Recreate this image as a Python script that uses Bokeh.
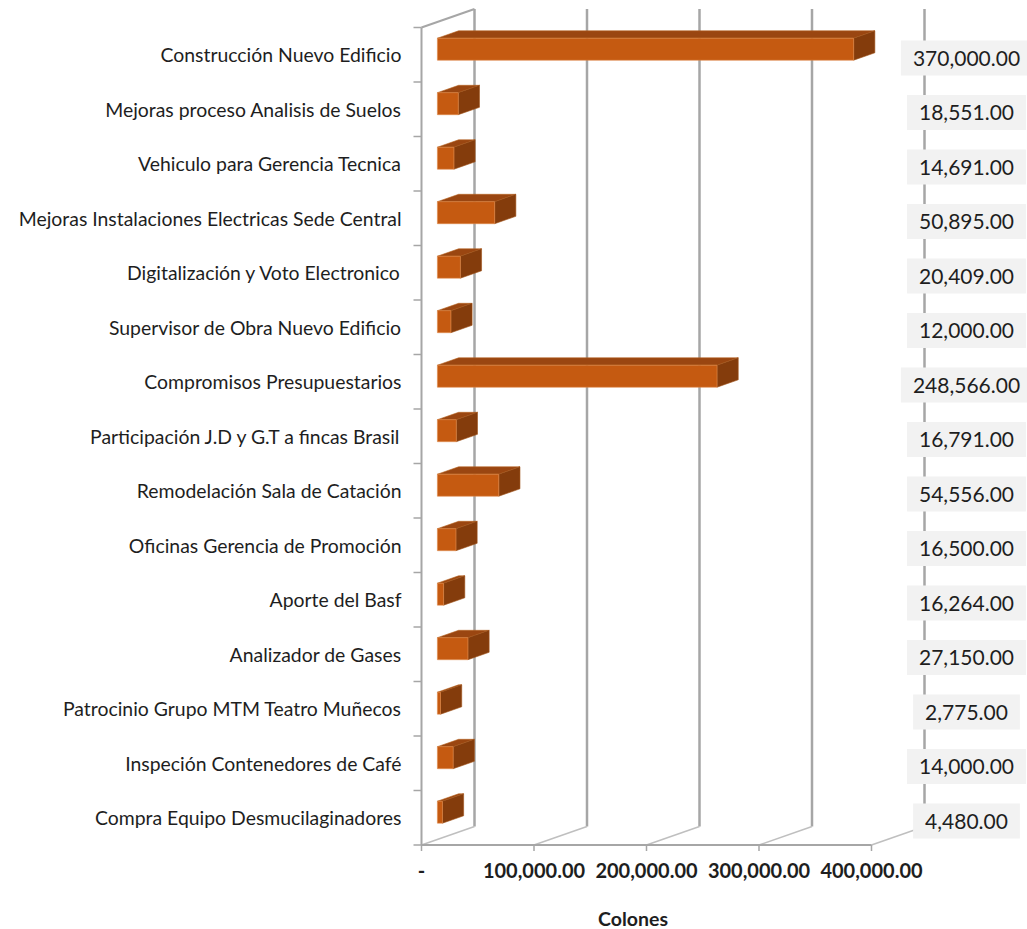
from bokeh.plotting import figure
from bokeh.models import Range1d
from bokeh.core.properties import value
from bokeh.embed import file_html
from bokeh.resources import INLINE

# ---------------- data ----------------
categories = [
    "Construcción Nuevo Edificio",
    "Mejoras proceso Analisis de Suelos",
    "Vehiculo para Gerencia Tecnica",
    "Mejoras Instalaciones Electricas Sede Central",
    "Digitalización y Voto Electronico",
    "Supervisor de Obra Nuevo Edificio",
    "Compromisos Presupuestarios",
    "Participación J.D y G.T a fincas Brasil",
    "Remodelación Sala de Catación",
    "Oficinas Gerencia de Promoción",
    "Aporte del Basf",
    "Analizador de Gases",
    "Patrocinio Grupo MTM Teatro Muñecos",
    "Inspeción Contenedores de Café",
    "Compra Equipo Desmucilaginadores",
]
bar_values = [370000, 18551, 14691, 50895, 20409, 12000, 248566, 16791,
              54556, 16500, 5500, 27150, 2775, 14000, 4480]
label_texts = ["370,000.00", "18,551.00", "14,691.00", "50,895.00", "20,409.00",
               "12,000.00", "248,566.00", "16,791.00", "54,556.00", "16,500.00",
               "16,264.00", "27,150.00", "2,775.00", "14,000.00", "4,480.00"]
tick_values = [0, 100000, 200000, 300000, 400000]
tick_labels = ["-", "100,000.00", "200,000.00", "300,000.00", "400,000.00"]
axis_title = "Colones"

# ---------------- layout constants ----------------
W, H = 1027, 929
PX = 400000 / 450.0          # value units per screen pixel
X0_PX = 421                  # screen x of value 0
BAND = 54.5                  # screen px per category band
FLOOR_PX = 844.5             # screen y of front floor (from top)
DX = 53 * PX                 # depth offset (x, value units)
DY = 18.5 / BAND             # depth offset (y, band units)
F0, F1 = 0.3, 0.7            # bar front/back depth fractions
HALF = 11 / BAND             # half bar height
n = len(categories)

p = figure(width=W, height=H, output_backend="svg", toolbar_location=None,
           x_range=Range1d(-X0_PX * PX, (W - X0_PX) * PX),
           y_range=Range1d(-(H - FLOOR_PX) / BAND, FLOOR_PX / BAND),
           x_axis_location=None, y_axis_location=None,
           min_border=0, outline_line_color=None)
p.grid.visible = False
p.background_fill_color = "white"
p.border_fill_color = "white"

xmax = tick_values[-1]
centers = [n - 1 - i + 0.5 for i in range(n)]
nt = len(tick_values)

# back wall gridlines
p.segment(x0=[t + DX for t in tick_values], y0=[DY] * nt,
          x1=[t + DX for t in tick_values], y1=[n + DY] * nt,
          line_color="#a6a6a6", line_width=2.5)
# floor diagonals
p.segment(x0=tick_values, y0=[0] * nt,
          x1=[t + DX for t in tick_values], y1=[DY] * nt,
          line_color="#bfbfbf", line_width=1.5)
# front floor, left wall, top-left diagonal
p.segment(x0=[0, 0, 0], y0=[0, 0, n], x1=[xmax, 0, DX], y1=[0, n, n + DY],
          line_color="#a6a6a6", line_width=2)
# tick marks
p.segment(x0=tick_values, y0=[0] * nt, x1=tick_values,
          y1=[-6 / BAND] * nt, line_color="#a6a6a6", line_width=1.5)
p.segment(x0=[-8 * PX] * (n + 1), y0=list(range(n + 1)), x1=[0] * (n + 1),
          y1=list(range(n + 1)), line_color="#a6a6a6", line_width=1.5)

# bars (3D)
front_x, front_y, top_x, top_y, side_x, side_y = [], [], [], [], [], []
for v, c in zip(bar_values, centers):
    lo, hi = c - HALF, c + HALF
    front_x.append([F0 * DX, v + F0 * DX, v + F0 * DX, F0 * DX])
    front_y.append([lo + F0 * DY, lo + F0 * DY, hi + F0 * DY, hi + F0 * DY])
    top_x.append([F0 * DX, v + F0 * DX, v + F1 * DX, F1 * DX])
    top_y.append([hi + F0 * DY, hi + F0 * DY, hi + F1 * DY, hi + F1 * DY])
    side_x.append([v + F0 * DX, v + F1 * DX, v + F1 * DX, v + F0 * DX])
    side_y.append([lo + F0 * DY, lo + F1 * DY, hi + F1 * DY, hi + F0 * DY])
p.patches(top_x, top_y, fill_color="#9a4611", line_color="#b5611f", line_width=0.6)
p.patches(side_x, side_y, fill_color="#843c0c", line_color="#a0521a", line_width=0.6)
p.patches(front_x, front_y, fill_color="#c55a11", line_color="#e0894a", line_width=0.6)

# category labels
p.text(x=[-20 * PX] * n, y=centers, text=categories, text_align="right",
       text_baseline="middle", text_font=value("Lato"), text_font_size="19.4px",
       text_color="#1e1e1e")

# value labels with boxes
p.text(x=[(966 - X0_PX) * PX] * n, y=[c - 0.06 for c in centers], text=label_texts,
       text_align="center", text_baseline="middle", text_font=value("Lato"),
       text_font_size="21px", text_color="#1e1e1e",
       background_fill_color="#f2f2f2", padding=[12, 10])

# x tick labels
p.text(x=tick_values, y=[-(870 - FLOOR_PX) / BAND] * nt, text=tick_labels,
       text_align="center", text_baseline="middle", text_font=value("Lato"),
       text_font_size="20px", text_font_style="bold", text_color="#1e1e1e")
# axis title
p.text(x=[0.47 * xmax], y=[-(918 - FLOOR_PX) / BAND], text=[axis_title],
       text_align="center", text_baseline="middle", text_font=value("Lato"),
       text_font_size="19.5px", text_font_style="bold", text_color="#1e1e1e")

open("out.html", "w").write(file_html(p, INLINE))
